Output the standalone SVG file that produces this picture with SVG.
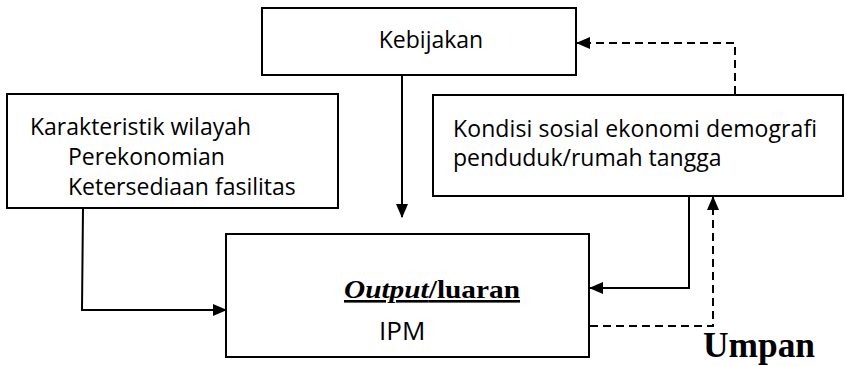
<svg xmlns="http://www.w3.org/2000/svg" width="846" height="366" viewBox="0 0 846 366">
<style>
.box{fill:#fff;stroke:#000;stroke-width:2}
.t{font-family:"Open Sans","Liberation Sans",sans-serif;font-size:23px;fill:#000}
.s{font-family:"Liberation Serif","DejaVu Serif",serif;font-weight:bold;fill:#000}
.c{fill:none;stroke:#000;stroke-width:2}
.d{stroke-dasharray:8,5}
</style>
<defs>
<marker id="ah" markerUnits="userSpaceOnUse" markerWidth="14" markerHeight="12" refX="13" refY="6" orient="auto">
<path d="M0,0 L14,6 L0,12 Z" fill="#000"/>
</marker>
</defs>
<rect width="846" height="366" fill="#fff"/>
<g id="connectors">
<path class="c" d="M402,75 V217" marker-end="url(#ah)"/>
<path class="c" d="M83,208 L82,310 H226" marker-end="url(#ah)"/>
<path class="c" d="M689,196 V288 H590" marker-end="url(#ah)"/>
<path class="c d" d="M590,326 H713 V197" marker-end="url(#ah)"/>
<path class="c d" d="M735,94 V43 H577" marker-end="url(#ah)"/>
</g>
<g id="kebijakan">
<rect class="box" x="262" y="8" width="314" height="67"/>
<text class="t" x="431" y="48" text-anchor="middle">Kebijakan</text>
</g>
<g id="karakteristik">
<rect class="box" x="7" y="94" width="331" height="114"/>
<text class="t" x="30" y="135">Karakteristik wilayah</text>
<text class="t" x="68" y="165">Perekonomian</text>
<text class="t" x="68" y="195">Ketersediaan fasilitas</text>
</g>
<g id="kondisi">
<rect class="box" x="433" y="95" width="410" height="101"/>
<text class="t" x="453" y="137" textLength="364" lengthAdjust="spacing">Kondisi sosial ekonomi  demografi</text>
<text class="t" x="453" y="166">penduduk/rumah tangga</text>
</g>
<g id="output">
<rect class="box" x="226" y="234" width="363" height="123"/>
<text class="s" x="344" y="298" font-size="26" textLength="176" lengthAdjust="spacingAndGlyphs"><tspan font-style="italic" text-decoration="underline">Output</tspan><tspan text-decoration="underline">/luaran</tspan></text>
<text class="t" x="379" y="340" style="font-size:26px">IPM</text>
</g>
<text class="s" x="703" y="357" font-size="36" textLength="112" lengthAdjust="spacingAndGlyphs">Umpan</text>
</svg>
